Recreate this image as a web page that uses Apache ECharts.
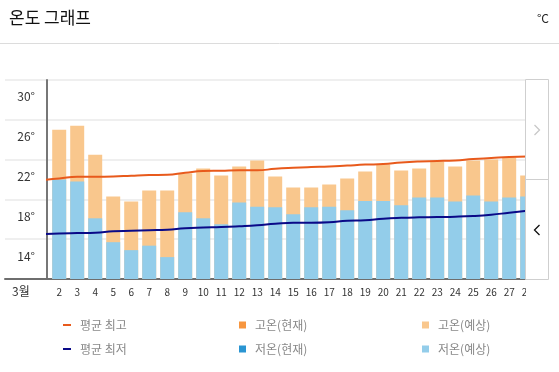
<!DOCTYPE html>
<html><head><meta charset="utf-8">
<script src="https://cdn.jsdelivr.net/npm/echarts@6/dist/echarts.min.js"></script>
<style>html,body{margin:0;padding:0;background:#fff}#c{width:559px;height:372px}</style>
</head><body><div id="c"></div>
<script>
const titleText = '온도 그래프';
const unitLabel = '°C';
const monthLabel = '3월';
const days = [1,2,3,4,5,6,7,8,9,10,11,12,13,14,15,16,17,18,19,20,21,22,23,24,25,26,27,28];
const dayLabels = [2,3,4,5,6,7,8,9,10,11,12,13,14,15,16,17,18,19,20,21,22,23,24,25,26,27,28];
const avgHigh = [21.95,22.1,22.28,22.28,22.3,22.38,22.45,22.48,22.68,22.85,22.88,22.92,22.92,23.08,23.18,23.25,23.3,23.4,23.5,23.55,23.72,23.82,23.86,23.92,24.06,24.16,24.26,24.32];
const avgLow = [16.5,16.58,16.62,16.65,16.8,16.85,16.9,16.95,17.1,17.17,17.22,17.3,17.4,17.55,17.65,17.65,17.7,17.85,17.9,18.06,18.15,18.2,18.23,18.26,18.33,18.46,18.66,18.85];
const highForecast = [null,27.0,27.4,24.5,20.3,19.8,20.9,20.9,22.6,23.1,22.4,23.3,23.9,22.3,21.2,21.2,21.5,22.1,22.8,23.5,22.9,23.1,23.8,23.3,23.9,24.0,24.2,22.4];
const lowForecast = [null,22.0,21.8,18.1,15.7,14.9,15.35,14.2,18.7,18.1,17.5,19.7,19.25,19.2,18.5,19.2,19.25,18.9,19.85,19.85,19.4,20.2,20.2,19.8,20.4,19.8,20.2,20.3];
const highNow = [];
const lowNow = [];
const yLabelValues = [14,18,22,26,30];
const names = ['평균 최고','평균 최저','고온(현재)','저온(현재)','고온(예상)','저온(예상)'];

const FONT = "'Noto Sans CJK KR','Noto Sans',sans-serif";
const C = {avgHigh:'#e85a1c', avgLow:'#0a0a88', highNow:'#f7963f', lowNow:'#2a95d2', highFc:'#f9c78d', lowFc:'#93cdea'};
const pair = (arr) => days.map((d, i) => [d, arr[i]]);

const chart = echarts.init(document.getElementById('c'), null, {renderer:'canvas'});

function legendItem(name, left, top, w, h, color) {
  return {
    data:[{name:name, icon:'rect', itemStyle:{color:color}}],
    left:left, top:top, padding:0, itemWidth:w, itemHeight:h, selectedMode:false,
    textStyle:{color:'#888', fontSize:12, fontFamily:FONT, lineHeight:14, padding:[0,0,0,4]}
  };
}

chart.setOption({
  animation:false,
  textStyle:{fontFamily:FONT},
  grid:[
    {left:5, right:34, top:80, height:199},
    {left:47, right:25, top:80, height:199}
  ],
  xAxis:[
    {gridIndex:0, type:'value', min:0, max:1, axisLine:{show:true, lineStyle:{color:'#6e6e6e', width:2}},
     axisTick:{show:false}, axisLabel:{show:false}, splitLine:{show:false}},
    {gridIndex:1, type:'value', min:1.322, max:28.378,
     axisLine:{show:false}, axisTick:{show:false}, splitLine:{show:false},
     axisLabel:{customValues:dayLabels, fontSize:10, color:'#333', margin:8, fontFamily:FONT}}
  ],
  yAxis:[
    {gridIndex:0, type:'value', min:12, max:32, interval:4, axisLine:{show:false}, axisTick:{show:false},
     axisLabel:{show:false}, splitLine:{show:true, lineStyle:{color:'#efefef', width:2}}},
    {gridIndex:1, type:'value', min:12, max:32, interval:2,
     axisLine:{show:true, lineStyle:{color:'#777', width:2}}, axisTick:{show:false}, splitLine:{show:false},
     axisLabel:{fontSize:12, color:'#333', margin:12, fontFamily:FONT, verticalAlign:'bottom', lineHeight:6,
       formatter:(v)=> yLabelValues.includes(v) ? v + '°' : ''}}
  ],
  legend:[
    legendItem(names[0], 63, 318, 8, 2, C.avgHigh),
    legendItem(names[1], 63, 342, 8, 2, C.avgLow),
    legendItem(names[2], 239, 318, 7, 7, C.highNow),
    legendItem(names[3], 239, 342, 7, 7, C.lowNow),
    legendItem(names[4], 422, 318, 7, 7, C.highFc),
    legendItem(names[5], 422, 342, 7, 7, C.lowFc)
  ],
  series:[
    {name:names[4], type:'bar', xAxisIndex:1, yAxisIndex:1, data:pair(highForecast), barWidth:14, barGap:'-100%', itemStyle:{color:C.highFc}, z:2},
    {name:names[5], type:'bar', xAxisIndex:1, yAxisIndex:1, data:pair(lowForecast), barWidth:14, barGap:'-100%', itemStyle:{color:C.lowFc}, z:2},
    {name:names[2], type:'bar', xAxisIndex:1, yAxisIndex:1, data:highNow, barWidth:14, barGap:'-100%', itemStyle:{color:C.highNow}, z:2},
    {name:names[3], type:'bar', xAxisIndex:1, yAxisIndex:1, data:lowNow, barWidth:14, barGap:'-100%', itemStyle:{color:C.lowNow}, z:2},
    {name:names[0], type:'line', xAxisIndex:1, yAxisIndex:1, data:pair(avgHigh), smooth:true, showSymbol:false, symbol:'none', lineStyle:{color:C.avgHigh, width:2}, itemStyle:{color:C.avgHigh}, z:5},
    {name:names[1], type:'line', xAxisIndex:1, yAxisIndex:1, data:pair(avgLow), smooth:true, showSymbol:false, symbol:'none', lineStyle:{color:C.avgLow, width:2}, itemStyle:{color:C.avgLow}, z:5}
  ],
  graphic:[
    {type:'text', left:9, top:9, z:100, style:{text:titleText, font:"17px 'Noto Sans CJK KR'", fill:'#111'}},
    {type:'text', right:10, top:12, z:100, style:{text:unitLabel, font:"12px 'Noto Sans CJK KR'", fill:'#222'}},
    {type:'line', z:100, shape:{x1:0, y1:43.5, x2:559, y2:43.5}, style:{stroke:'#dcdcdc', lineWidth:1}},
    {type:'text', left:12, top:285, z:100, style:{text:monthLabel, font:"12px 'Noto Sans CJK KR'", fill:'#333'}},
    {type:'rect', z:100, shape:{x:526, y:78, width:33, height:225}, style:{fill:'#fff'}},
    {type:'rect', z:101, shape:{x:525.5, y:79.5, width:23, height:200}, style:{fill:'none', stroke:'#cfcfcf', lineWidth:1}},
    {type:'line', z:101, shape:{x1:525.5, y1:179.5, x2:548.5, y2:179.5}, style:{stroke:'#cfcfcf', lineWidth:1}},
    {type:'polyline', z:101, shape:{points:[[534.5,125],[539.5,130],[534.5,135]]}, style:{stroke:'#c8c8c8', lineWidth:1.3, fill:'none'}},
    {type:'polyline', z:101, shape:{points:[[539.5,225],[534.5,230],[539.5,235]]}, style:{stroke:'#111', lineWidth:1.3, fill:'none'}}
  ]
});
</script></body></html>
